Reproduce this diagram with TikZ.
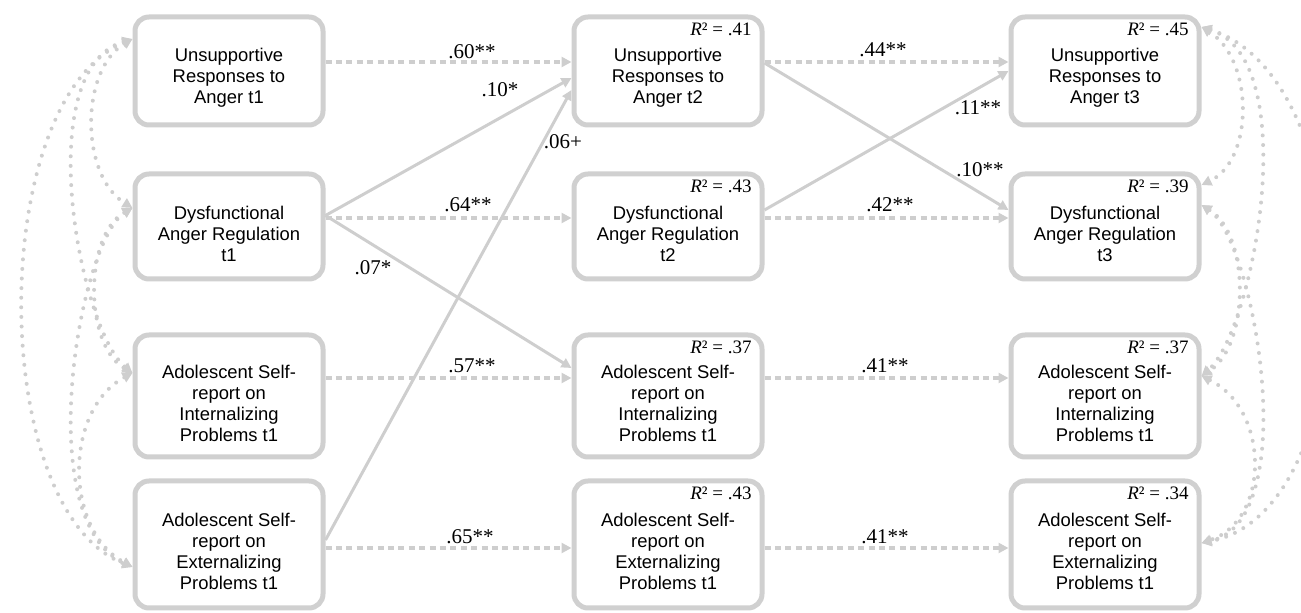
\documentclass[tikz,border=0pt]{standalone}
\usepackage{fontspec}
\setmainfont{Liberation Serif}
\setsansfont{Liberation Sans}
\usetikzlibrary{arrows.meta}

\definecolor{boxgray}{RGB}{208,208,208}
\definecolor{linegray}{RGB}{206,206,206}

\tikzset{
  var/.style={draw=boxgray,line width=2.5pt,rounded corners=7pt,minimum width=94pt},
  vtext/.style={align=center,inner sep=0pt,yshift=-3.5pt,font=\sffamily\fontsize{9.2}{10.5}\selectfont},
  rsq/.style={anchor=north east,inner sep=0pt,font=\fontsize{9.5}{10}\selectfont},
  coef/.style={inner sep=1pt,font=\fontsize{10.5}{12}\selectfont},
  stab/.style={draw=linegray,line width=1.6pt,dash pattern=on 3pt off 2.2pt,-{Triangle[length=5pt,width=5pt]}},
  cross/.style={draw=linegray,line width=1.5pt,-{Triangle[length=5pt,width=5pt]}},
  cov/.style={draw=linegray,line width=2pt,line cap=round,dash pattern=on 0pt off 4.8pt,
    {Triangle[length=5pt,width=5pt]}-{Triangle[length=5pt,width=5pt]}}
}

\begin{document}
\begin{tikzpicture}[x=0.5pt,y=-0.5pt]
	\path[use as bounding box](0,0)rectangle(1301,613);
	\clip(0,0)rectangle(1301,613);

	% t1
	\node[var,minimum height=54pt,label={[vtext]center:{Unsupportive\\Responses to\\Anger t1}}](u1)at(229,71){};
	\node[var,minimum height=52.5pt,label={[vtext]center:{Dysfunctional\\Anger Regulation\\t1}}](d1)at(229,226.5){};
	\node[var,minimum height=61pt,label={[vtext]center:{Adolescent Self-\\report on\\Internalizing\\Problems t1}}](i1)at(229,396){};
	\node[var,minimum height=63.5pt,label={[vtext]center:{Adolescent Self-\\report on\\Externalizing\\Problems t1}}](e1)at(229,544.5){};

	% t2
	\node[var,minimum height=54pt,label={[vtext]center:{Unsupportive\\Responses to\\Anger t2}}](u2)at(668,71){};
	\node[var,minimum height=52.5pt,label={[vtext]center:{Dysfunctional\\Anger Regulation\\t2}}](d2)at(668,226.5){};
	\node[var,minimum height=61pt,label={[vtext]center:{Adolescent Self-\\report on\\Internalizing\\Problems t1}}](i2)at(668,396){};
	\node[var,minimum height=63.5pt,label={[vtext]center:{Adolescent Self-\\report on\\Externalizing\\Problems t1}}](e2)at(668,544.5){};

	% t3
	\node[var,minimum height=54pt,label={[vtext]center:{Unsupportive\\Responses to\\Anger t3}}](u3)at(1105,71){};
	\node[var,minimum height=52.5pt,label={[vtext]center:{Dysfunctional\\Anger Regulation\\t3}}](d3)at(1105,226.5){};
	\node[var,minimum height=61pt,label={[vtext]center:{Adolescent Self-\\report on\\Internalizing\\Problems t1}}](i3)at(1105,396){};
	\node[var,minimum height=63.5pt,label={[vtext]center:{Adolescent Self-\\report on\\Externalizing\\Problems t1}}](e3)at(1105,544.5){};

	% explained variance
	\node[rsq](ru2)at([xshift=-6.25pt,yshift=-4.25pt]u2.north east){\textit{R}² = .41};
	\node[rsq](rd2)at([xshift=-6.25pt,yshift=-4.25pt]d2.north east){\textit{R}² = .43};
	\node[rsq](ri2)at([xshift=-6.25pt,yshift=-4.25pt]i2.north east){\textit{R}² = .37};
	\node[rsq](re2)at([xshift=-6.25pt,yshift=-4.25pt]e2.north east){\textit{R}² = .43};
	\node[rsq](ru3)at([xshift=-6.25pt,yshift=-4.25pt]u3.north east){\textit{R}² = .45};
	\node[rsq](rd3)at([xshift=-6.25pt,yshift=-4.25pt]d3.north east){\textit{R}² = .39};
	\node[rsq](ri3)at([xshift=-6.25pt,yshift=-4.25pt]i3.north east){\textit{R}² = .37};
	\node[rsq](re3)at([xshift=-6.25pt,yshift=-4.25pt]e3.north east){\textit{R}² = .34};

	% stability paths
	\draw[stab]([yshift=4.5pt]u1.east)--([yshift=4.5pt]u2.west);
	\draw[stab]([yshift=4.25pt]d1.east)--([yshift=4.25pt]d2.west);
	\draw[stab]([yshift=9pt]i1.east)--([yshift=9pt]i2.west);
	\draw[stab]([yshift=-1.75pt]e1.east)--([yshift=-1.75pt]e2.west);
	\draw[stab]([yshift=4.5pt]u2.east)--([yshift=4.5pt]u3.west);
	\draw[stab]([yshift=4.25pt]d2.east)--([yshift=4.25pt]d3.west);
	\draw[stab]([yshift=9pt]i2.east)--([yshift=9pt]i3.west);
	\draw[stab]([yshift=-1.75pt]e2.east)--([yshift=-1.75pt]e3.west);

	% cross-lagged paths
	\draw[cross]([yshift=5.5pt]d1.east)--([yshift=-3.5pt]u2.west);
	\draw[cross]([yshift=5.5pt]d1.east)--([yshift=14pt]i2.west);
	\draw[cross]([yshift=2.25pt]e1.east)--([yshift=-9.5pt]u2.west);
	\draw[cross]([yshift=4pt]u2.east)--([yshift=8.25pt]d3.west);
	\draw[cross]([yshift=8.25pt]d2.east)--(u3.west);

	\node[coef](c60)at(472,52){.60**};
	\node[coef](c10)at(500,90){.10*};
	\node[coef](c06)at(563,142){.06+};
	\node[coef](c64)at(468,205){.64**};
	\node[coef](c07)at(373,268){.07*};
	\node[coef](c57)at(472,366){.57**};
	\node[coef](c65)at(470,537){.65**};
	\node[coef](c44)at(883,50){.44**};
	\node[coef](c11)at(978,108){.11**};
	\node[coef](c10b)at(980,170){.10**};
	\node[coef](c42)at(890,205){.42**};
	\node[coef](c41a)at(885,366){.41**};
	\node[coef](c41b)at(885,537){.41**};

	% covariances t1
	\draw[cov]([yshift=16pt]u1.west)..controls(80,70)and(80,175)..([yshift=9.25pt]d1.west);
	\draw[cov]([yshift=16pt]u1.west)..controls(30,70)and(80,330)..([yshift=11.5pt]i1.west);
	\draw[cov]([yshift=16pt]u1.west)..controls(-13,100)and(-13,510)..([yshift=-11.25pt]e1.west);
	\draw[cov]([yshift=9.25pt]d1.west)..controls(84,235)and(84,345)..([yshift=11.5pt]i1.west);
	\draw[cov]([yshift=9.25pt]d1.west)..controls(80,240)and(30,520)..([yshift=-11.25pt]e1.west);
	\draw[cov]([yshift=11.5pt]i1.west)..controls(64,410)and(64,530)..([yshift=-11.25pt]e1.west);

	% residual covariances t3
	\draw[cov]([yshift=22pt]u3.east)..controls(1254,60)and(1254,160)..([yshift=20.75pt]d3.east);
	\draw[cov]([yshift=22pt]u3.east)..controls(1304,60)and(1254,330)..([yshift=10pt]i3.east);
	\draw[cov]([yshift=22pt]u3.east)..controls(1370,80)and(1370,510)..([yshift=0.75pt]e3.east);
	\draw[cov]([yshift=10.75pt]d3.east)..controls(1250,235)and(1250,345)..([yshift=10pt]i3.east);
	\draw[cov]([yshift=10.75pt]d3.east)..controls(1254,240)and(1304,520)..([yshift=0.75pt]e3.east);
	\draw[cov]([yshift=10pt]i3.east)..controls(1270,410)and(1270,520)..([yshift=0.75pt]e3.east);
\end{tikzpicture}
\end{document}
